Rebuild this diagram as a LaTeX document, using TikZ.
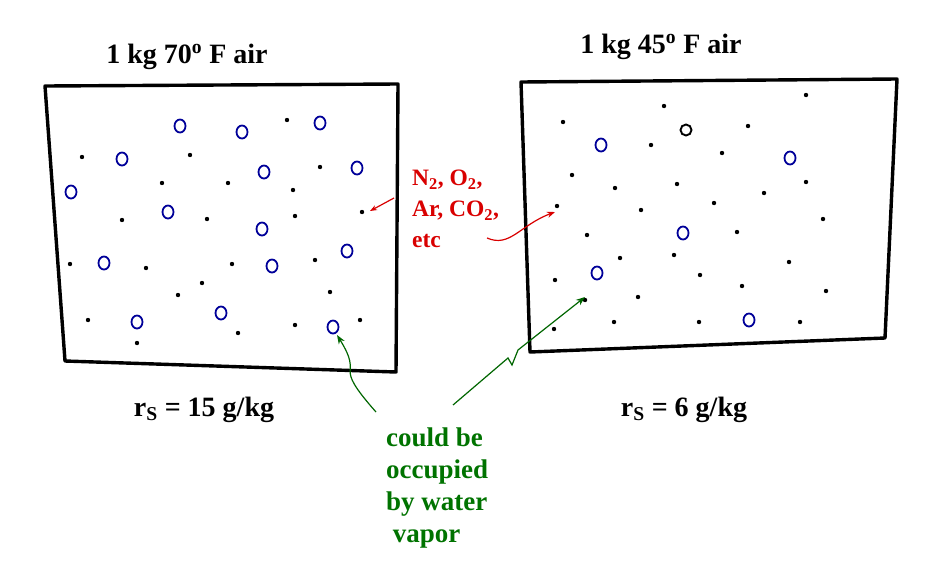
\documentclass[tikz,border=0pt]{standalone}
\usepackage{fontspec}
\setmainfont{Liberation Serif}
\usetikzlibrary{arrows.meta}
\begin{document}
\begin{tikzpicture}[x=1pt,y=-1pt,
  boxline/.style={line width=3.4pt,line join=round},
  lbl/.style={font=\bfseries\fontsize{28}{30}\selectfont,anchor=base},
  red/.style={text=red!85!black,font=\bfseries\fontsize{23.5}{31}\selectfont,align=left},
  grn/.style={text=green!45!black,font=\bfseries\fontsize{27}{32}\selectfont,align=left}]
\useasboundingbox (0,0) rectangle (933,584);
\fill[white] (0,0) rectangle (933,584);
% boxes
\draw[boxline] (45,86) -- (398,84) -- (396,372) -- (65,361) -- cycle;
\draw[boxline] (521,82) -- (897,79) -- (885,338) -- (530,352) -- cycle;
% left circles
\foreach \p in {(180,126),(242,132),(320,123),(122,159),(264,172),(357,168),(71,192),(168,212),(262,229),(347,251),(104,263),(272,266),(221,313),(137,322),(333,327)}
  \draw[blue!60!black,line width=1.8pt] \p ellipse (5.5 and 6.5);
\foreach \p in {(287,120),(82,157),(190,155),(162,183),(228,183),(320,167),(293,190),(122,220),(207,219),(295,216),(362,212),(70,264),(146,268),(232,264),(315,260),(202,283),(330,292),(88,320),(178,295),(238,333),(295,325),(137,343),(360,320)}
  \fill \p circle (2.2);
% right circles
\draw[line width=1.9pt] (686,130) circle (5.5);
\foreach \p in {(601,145),(790,158),(683,233),(597,273),(749,320)}
  \draw[blue!60!black,line width=1.8pt] \p ellipse (5.5 and 6.5);
\foreach \p in {(664,106),(806,95),(563,122),(651,145),(722,153),(748,126),(572,175),(615,188),(677,184),(764,193),(806,182),(557,206),(641,210),(714,203),(823,219),(587,235),(737,232),(620,258),(674,255),(789,262),(555,280),(700,275),(742,286),(826,291),(638,297),(585,300),(554,329),(614,322),(699,322),(800,322)}
  \fill \p circle (2.2);
% titles
\node[lbl] (t1) at (187,63) {1 kg 70\textsuperscript{o} F air};
\node[lbl] (t2) at (661,53) {1 kg 45\textsuperscript{o} F air};
\node[lbl] (r1) at (204,416) {r\textsubscript{S} = 15 g/kg};
\node[lbl] (r2) at (684,416) {r\textsubscript{S} = 6 g/kg};
% red text
\node[red,anchor=north west,inner sep=0pt] (gas) at (412,170) {N\textsubscript{2}, O\textsubscript{2},\\Ar, CO\textsubscript{2},\\etc};
\coordinate (ra1) at (394,198); \coordinate (ra2) at (370,211);
\draw[red!85!black,line width=1.2pt,-{Stealth[length=7pt]}] (ra1) -- (ra2);
\coordinate (rb1) at (487,238); \coordinate (rb2) at (555,212);
\draw[red!85!black,line width=1.2pt,-{Stealth[length=8pt]}] (rb1) .. controls (510,248) and (520,225) .. (rb2);
% green text
\node[grn,anchor=north west,inner sep=0pt] (wv) at (386,428) {could be\\occupied\\by water\\\ vapor};
\coordinate (g1) at (376,412); \coordinate (g2) at (337,335);
\draw[green!40!black,line width=1.2pt,-{Stealth[length=9pt]}] (g1) .. controls (330,360) and (365,380) .. (g2);
\coordinate (h1) at (453,405); \coordinate (h2) at (585,297);
\draw[green!40!black,line width=1.2pt,-{Stealth[length=9pt]}] (h1) -- (508,358) -- (512,365) -- (518,350) -- (h2);
\end{tikzpicture}
\end{document}
